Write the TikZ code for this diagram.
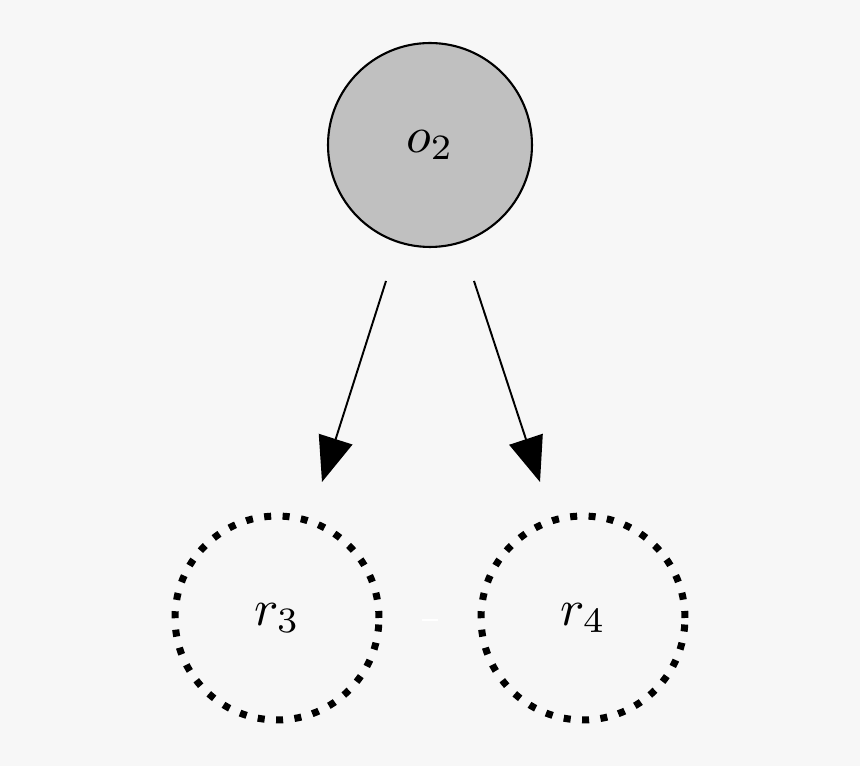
\documentclass[tikz,border=0pt]{standalone}
\usetikzlibrary{arrows.meta}
\definecolor{bgc}{RGB}{247,247,247}
\definecolor{nodefill}{RGB}{192,192,192}
\newcommand{\biglbl}[1]{\scalebox{2.9}{$#1$}}
\begin{document}
\begin{tikzpicture}[x=0.02cm,y=-0.02cm,
  solidnode/.style={circle,draw,line width=1.2pt,fill=nodefill,minimum size=4.08cm,inner sep=0pt},
  dotnode/.style={circle,draw,line width=4pt,dash pattern=on 4pt off 6.5pt,minimum size=4.08cm,inner sep=0pt},
  arr/.style={line width=1.1pt,-{Triangle[length=0.9cm,width=0.7cm]}}]
\fill[bgc] (0,0) rectangle (860,766);
\useasboundingbox (0,0) rectangle (860,766);
\node[solidnode] (o2) at (430,145) {\biglbl{o_2}};
\node[dotnode] (r3) at (277,618) {\biglbl{r_3}};
\node[dotnode] (r4) at (583,618) {\biglbl{r_4}};
\coordinate (a1) at (386,281);
\coordinate (b1) at (322,482);
\coordinate (a2) at (474,281);
\coordinate (b2) at (540,482);
\draw[arr] (a1) -- (b1);
\draw[arr] (a2) -- (b2);
\coordinate (w1) at (422,620);
\coordinate (w2) at (438,620);
\draw[white,line width=1pt] (w1) -- (w2);
\end{tikzpicture}
\end{document}
